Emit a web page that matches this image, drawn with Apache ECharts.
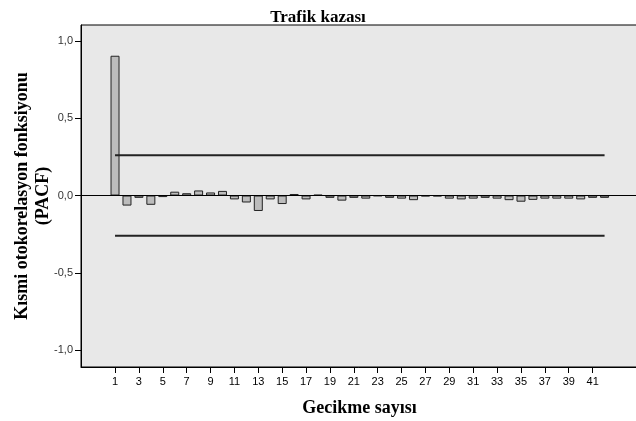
<!DOCTYPE html>
<html>
<head>
<meta charset="utf-8">
<script src="https://cdn.jsdelivr.net/npm/echarts@6/dist/echarts.min.js"></script>
<style>
html, body { margin: 0; padding: 0; background: #ffffff; }
#pacf { width: 636px; height: 421px; }
</style>
</head>
<body>
<div id="pacf"></div>
<script>
// lag numbers and partial autocorrelations
let lags = [1, 2, 3, 4, 5, 6, 7, 8, 9, 10, 11, 12, 13, 14, 15, 16, 17, 18, 19, 20, 21,
            22, 23, 24, 25, 26, 27, 28, 29, 30, 31, 32, 33, 34, 35, 36, 37, 38, 39, 40, 41, 42];
let pacf = [0.905, -0.065, -0.015, -0.06, -0.01, 0.025, 0.015, 0.033, 0.02, 0.03, -0.025,
            -0.045, -0.10, -0.025, -0.055, 0.01, -0.025, 0.005, -0.015, -0.033, -0.015,
            -0.02, -0.003, -0.015, -0.02, -0.03, -0.005, -0.005, -0.02, -0.025, -0.02,
            -0.015, -0.02, -0.03, -0.04, -0.028, -0.02, -0.02, -0.02, -0.025, -0.015, -0.015];
let upperLimit = 0.26;
let lowerLimit = -0.26;
let xTickLabels = [1, 3, 5, 7, 9, 11, 13, 15, 17, 19, 21, 23, 25, 27, 29, 31, 33, 35, 37, 39, 41];
let yTickLabels = [-1, -0.5, 0, 0.5, 1];

PacfChart = echarts.init(document.getElementById('pacf'));

bar_data = [];
for(i = 0; i < lags.length; ++i){
    bar_data.push([lags[i], pacf[i]]);
}
first_lag = lags[0];
last_lag = lags[lags.length - 1];

pacf_chart = {
    animation: false,
    title: {
        text: 'Trafik kazası',
        left: 'center',
        top: 4,
        textStyle: {
            fontFamily: 'Liberation Serif',
            fontWeight: 'bold',
            fontSize: 17,
            color: '#000'
        }
    },
    grid: {
        left: 81,
        top: 25,
        right: -2,
        bottom: 54,
        containLabel: false,
        outerBoundsMode: 'none',
        show: true,
        backgroundColor: '#e8e8e8',
        borderColor: '#000',
        borderWidth: 1
    },
    xAxis: {
        type: 'value',
        min: -1.85,
        max: 44.8,
        name: 'Gecikme sayısı',
        nameLocation: 'middle',
        nameGap: 32,
        nameMoveOverlap: false,
        nameTextStyle: {
            fontFamily: 'Liberation Serif',
            fontWeight: 'bold',
            fontSize: 18,
            color: '#000'
        },
        splitLine: { show: false },
        axisLine: { show: true, onZero: false, lineStyle: { color: '#000' } },
        axisTick: {
            show: true,
            length: 6,
            customValues: xTickLabels,
            lineStyle: { color: '#000' }
        },
        axisLabel: {
            customValues: xTickLabels,
            fontFamily: 'Liberation Sans',
            fontSize: 11,
            color: '#000',
            margin: 9
        }
    },
    yAxis: {
        type: 'value',
        min: -1.11,
        max: 1.104,
        name: 'Kısmi otokorelasyon fonksiyonu\n(PACF)',
        nameLocation: 'middle',
        nameRotate: 90,
        nameGap: 27,
        nameMoveOverlap: false,
        nameTextStyle: {
            fontFamily: 'Liberation Serif',
            fontWeight: 'bold',
            fontSize: 18,
            lineHeight: 21,
            color: '#000'
        },
        splitLine: { show: false },
        axisLine: { show: true, onZero: false, lineStyle: { color: '#000' } },
        axisTick: {
            show: true,
            length: 6,
            customValues: yTickLabels,
            lineStyle: { color: '#000' }
        },
        axisLabel: {
            customValues: yTickLabels,
            fontFamily: 'Liberation Sans',
            fontSize: 11,
            color: '#333',
            margin: 8,
            formatter: function (v) { return v.toFixed(1).replace('.', ','); }
        }
    },
    series: [{
        type: 'bar',
        data: bar_data,
        barWidth: 9,
        itemStyle: {
            color: '#bcbcbc',
            borderColor: '#222',
            borderWidth: 1
        },
        markLine: {
            silent: true,
            symbol: 'none',
            label: { show: false },
            lineStyle: { color: '#000', width: 1, type: 'solid' },
            data: [{ yAxis: 0 }]
        }
    }, {
        type: 'line',
        data: [[first_lag, upperLimit], [last_lag, upperLimit]],
        symbol: 'none',
        lineStyle: { color: '#222', width: 2 }
    }, {
        type: 'line',
        data: [[first_lag, lowerLimit], [last_lag, lowerLimit]],
        symbol: 'none',
        lineStyle: { color: '#222', width: 2 }
    }]
};

PacfChart.setOption(pacf_chart);
</script>
</body>
</html>
